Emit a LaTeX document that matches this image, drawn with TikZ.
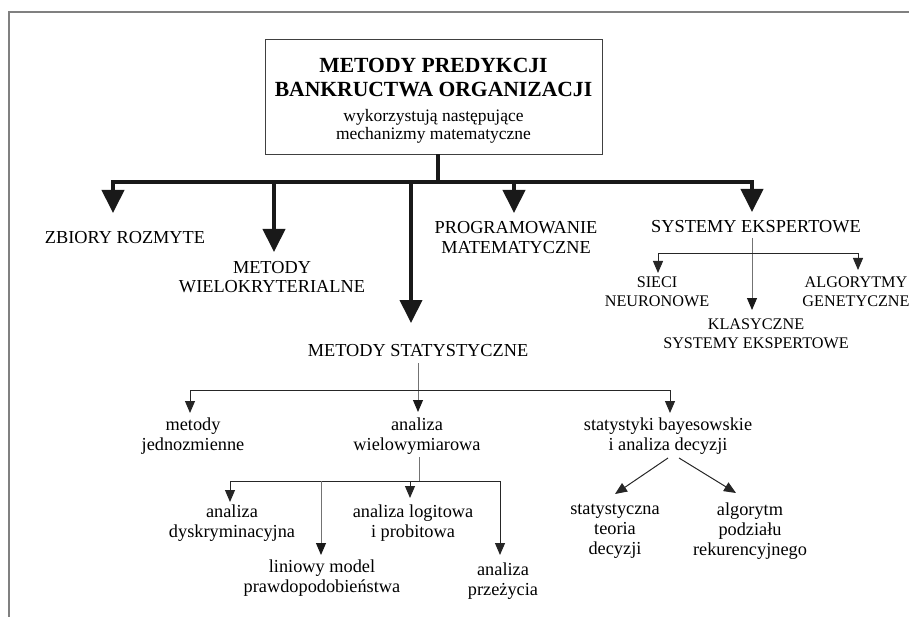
\documentclass[tikz,border=0pt]{standalone}
\usepackage{fontspec}
\setmainfont{Liberation Serif}
\usetikzlibrary{arrows.meta}
\begin{document}
\begin{tikzpicture}[x=1pt,y=-1pt,
  lbl/.style={inner sep=0pt, align=center, anchor=base, font=\fontsize{18.3}{20}\selectfont},
  lbls/.style={inner sep=0pt, align=center, anchor=base, font=\fontsize{16.2}{19}\selectfont},
  ttl/.style={inner sep=0pt, align=center, anchor=base, font=\fontsize{21.6}{24}\selectfont\bfseries},
  sub/.style={inner sep=0pt, align=center, anchor=base, font=\fontsize{17.5}{18.5}\selectfont},
  bigline/.style={line width=4pt, draw=black!90, line join=miter},
  bigtip/.style={{Triangle[width=22pt,length=23pt]}-{Triangle[width=22pt,length=23pt]}},
  bigarrow/.style={line width=4pt, draw=black!90, -{Triangle[width=22pt,length=23pt]}},
  thinline/.style={line width=1pt, draw=black!85},
  stem/.style={line width=1pt, draw=black!55, -{Triangle[width=10pt,length=12pt,color=black!90]}},
  stemplain/.style={line width=1pt, draw=black!55},
  thintip/.style={{Triangle[width=10pt,length=12pt]}-{Triangle[width=10pt,length=12pt]}},
  thinarrow/.style={line width=1pt, draw=black!85, -{Triangle[width=10pt,length=12pt]}},
  frame/.style={line width=1.5pt, draw=black!50}
]
\useasboundingbox (0,0) rectangle (909,617);
% frame
\draw[frame] (909,12) -- (9,12) -- (9,617);

% title
\node[draw=black!75, line width=0.9pt, minimum width=337pt, minimum height=115pt, inner sep=0pt] (title) at (433.5,96.5) {};
\node[ttl] (t1) at (433.5,97) {METODY PREDYKCJI\\BANKRUCTWA ORGANIZACJI};
\node[sub] (t2) at (433.5,140) {wykorzystują następujące\\mechanizmy matematyczne};

% level 1 labels (y = baseline of the last line)
\node[lbl] (zb) at (125,244) {ZBIORY ROZMYTE};
\node[lbl] (wk) at (272,293) {METODY\\WIELOKRYTERIALNE};
\node[lbl] (st) at (418,356) {METODY STATYSTYCZNE};
\node[lbl] (pm) at (516,254) {PROGRAMOWANIE\\MATEMATYCZNE};
\node[lbl] (se) at (756,233) {SYSTEMY EKSPERTOWE};

% expert systems children
\node[lbls] (sn) at (657,306) {SIECI\\NEURONOWE};
\node[lbls] (ag) at (856,306) {ALGORYTMY\\GENETYCZNE};
\node[lbls] (ks) at (756,348) {KLASYCZNE\\SYSTEMY EKSPERTOWE};

% statistical children
\node[lbl] (mj) at (193,450) {metody\\jednozmienne};
\node[lbl] (aw) at (417,450) {analiza\\wielowymiarowa};
\node[lbl] (sb) at (668,450) {statystyki bayesowskie\\i analiza decyzji};

\node[lbl] (ad) at (232,537) {analiza\\dyskryminacyjna};
\node[lbl] (ll) at (413,537) {analiza logitowa\\i probitowa};
\node[lbl] (lm) at (322,592) {liniowy model\\prawdopodobieństwa};
\node[lbl] (ap) at (503,595) {analiza\\przeżycia};

\node[lbl] (stt) at (615,554) {statystyczna\\teoria\\decyzji};
\node[lbl] (ar) at (750,555) {algorytm\\podziału\\rekurencyjnego};

% coordinates of the main bar
\coordinate (b0) at (438,182);
\coordinate (bzb) at (113,182);
\coordinate (bwk) at (274,182);
\coordinate (bst) at (411,182);
\coordinate (bpm) at (514,182);
\coordinate (bse) at (752,182);
\coordinate (zbin) at (113,213);
\coordinate (wkin) at (274,252);
\coordinate (stin) at (411,323);
\coordinate (pmin) at (514,213);
\coordinate (sein) at (752,212);

\draw[bigline] (title.south -| b0) -- (b0);
\draw[bigline, bigtip] (zbin) -- (bzb) -- (bse) -- (sein);
\draw[bigarrow] (bwk) -- (wkin);
\draw[bigarrow] (bst) -- (stin);
\draw[bigarrow] (bpm) -- (pmin);

% expert systems branch
\coordinate (se0) at (752,238);
\coordinate (ksin) at (752,310);
\coordinate (bsn) at (658,254);
\coordinate (bag) at (858,254);
\coordinate (snin) at (658,273);
\coordinate (agin) at (858,270);
\draw[stem] (se0) -- (ksin);
\draw[thinline, thintip] (snin) -- (bsn) -- (bag) -- (agin);

% statistical branch
\coordinate (st0) at (418,363);
\coordinate (awin) at (418,412);
\coordinate (bmj) at (190,390);
\coordinate (bsb) at (670,390);
\coordinate (mjin) at (190,413);
\coordinate (sbin) at (670,413);
\draw[stem] (st0) -- (awin);
\draw[thinline, thintip] (mjin) -- (bmj) -- (bsb) -- (sbin);

% multivariate branch
\coordinate (aw0) at (419,457);
\coordinate (baw) at (419,481);
\coordinate (bad) at (230,481);
\coordinate (bap) at (500,481);
\coordinate (blm) at (321,481);
\coordinate (bll) at (410,481);
\coordinate (adin) at (230,502);
\coordinate (apin) at (500,555);
\coordinate (lmin) at (321,555);
\coordinate (llin) at (410,498);
\draw[stemplain] (aw0) -- (baw);
\draw[thinline, thintip] (adin) -- (bad) -- (bap) -- (apin);
\draw[stem] (blm) -- (lmin);
\draw[thinarrow] (bll) -- (llin);

% bayesian branch
\coordinate (sb1) at (668,458);
\coordinate (sb2) at (679,458);
\coordinate (sttin) at (615,494);
\coordinate (arin) at (736,493);
\draw[thinarrow] (sb1) -- (sttin);
\draw[thinarrow] (sb2) -- (arin);
\end{tikzpicture}
\end{document}
